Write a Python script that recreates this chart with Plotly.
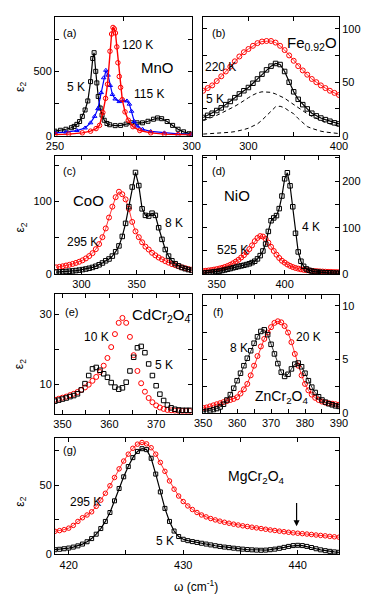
import plotly.graph_objects as go

W, H = 374, 604            # reference picture size
PAD = 8                    # page body margin around the plot div
FW, FH = W - 2 * PAD, H - 2 * PAD
FONT = "Liberation Sans, Arial, Helvetica, sans-serif"

# ---------------- (a) MnO ----------------
mno_x_5k = [250, 252, 254, 256, 257, 258, 259, 260, 261, 262, 263, 263.8, 264.3, 264.9, 265.3, 265.8,
            266.5, 267.2, 268, 269, 270, 272, 274, 276, 278, 280, 282, 284, 286, 287.5, 289, 291,
            293, 295, 297, 299, 300]
mno_5k = [35, 42, 50, 62, 72, 88, 110, 150, 200, 270, 420, 600, 645, 500, 410, 305,
          215, 160, 120, 95, 85, 78, 80, 90, 100, 100, 100, 112, 128, 138, 132, 110,
          80, 50, 30, 15, 12]
mno_x_115k = [250, 254, 258, 261, 263, 264.5, 265.7, 266.9, 267.8, 268.6, 269.4, 270.2, 271, 272,
              273.5, 275, 276.3, 277.2, 278, 279, 280, 282, 285, 290, 295, 300]
mno_115k = [22, 28, 40, 60, 100, 150, 210, 335, 450, 508, 470, 390, 320, 285,
            265, 272, 270, 245, 190, 110, 75, 50, 33, 22, 14, 10]
mno_x_120k = [250, 255, 260, 263, 265, 266.3, 267.5, 268.5, 269.2, 270.1, 270.7, 271.2, 271.7, 272.1,
              272.6, 273.0, 273.5, 274.0, 274.6, 275.6, 276.8, 278.5, 281, 285, 290, 295, 300]
mno_120k = [8, 12, 22, 35, 55, 80, 180, 290, 400, 656, 790, 841, 830, 798,
            690, 567, 460, 375, 280, 185, 120, 70, 40, 22, 12, 8, 6]

# ---------------- (b) Fe0.92O ----------------
feo_x = [250, 255, 260, 265, 270, 275, 280, 285, 290, 295, 300, 305, 310, 315, 320, 325,
         330, 335, 340, 345, 350, 355, 360, 365, 370, 375, 380, 385, 390, 395, 400]
feo_220k = [42, 44.5, 47, 51, 55.5, 60, 64.5, 69.5, 74, 78, 81, 84, 86.5, 88, 88.5, 88.5,
            87, 84, 80, 75, 70, 65, 61, 57, 53, 50, 47, 44.5, 42, 40, 38]
feo_5k = [17, 19, 21, 23.5, 26, 29, 32, 35.5, 39, 42, 45, 49, 53, 57.5, 61.5, 65,
          67.5, 66.5, 60, 50, 41, 34, 29, 25, 21, 18.5, 16.5, 15, 13.5, 12, 11]
feo_osc1 = [14, 15.5, 17.5, 19, 21, 23, 25, 27.5, 30, 33, 35.5, 38, 40, 41, 41, 40.5,
            39, 37, 35, 32, 29, 26, 23, 20.5, 18, 16, 14, 12.5, 11, 10, 9]
feo_osc2 = [1.5, 1.7, 1.9, 2.1, 2.4, 2.8, 3.2, 3.8, 4.6, 5.7, 7.0, 8.8, 11, 14.5, 19, 23.5,
            27, 27.5, 26, 23, 20.5, 16, 12, 8.5, 6.8, 5.3, 4.2, 3.4, 2.8, 2.3, 2.0]

# ---------------- (c) CoO ----------------
coo_x = [277, 280, 283, 286, 289, 292, 295, 298, 301, 304, 307, 310, 313, 316, 319, 322,
         325, 328, 331, 334, 337, 340, 343, 346, 349, 352, 355, 358, 361, 364, 367, 370,
         373, 376, 379, 382, 385, 388, 391, 394, 397, 400]
coo_295k = [9.5, 10.2, 11.0, 12.0, 13.0, 14.2, 15.6, 17.2, 19.2, 21.8, 25.0, 29.0, 34.5, 41.5, 51, 63,
            78, 93, 106, 113.5, 110, 103, 90, 72, 59, 51, 44, 38, 34, 29.5, 26, 23,
            20.5, 18, 16, 14, 12.5, 11, 9.5, 8.3, 7.2, 6.3]
coo_8k = [3.0, 3.2, 3.5, 3.8, 4.2, 4.6, 5.1, 5.7, 6.4, 7.2, 8.2, 9.4, 11.0, 13.0, 15.5, 18.5,
          21, 25, 31, 39, 52, 70, 93, 120, 140, 122, 90, 81, 80, 84, 81, 64,
          48, 34, 25, 18.5, 14.5, 11.5, 9.3, 7.7, 6.4, 5.4]

# ---------------- (d) NiO ----------------
nio_x = [340, 342, 344, 346, 348, 350, 352, 354, 356, 358, 360, 362, 364, 366, 368, 370, 372,
         374, 376, 378, 380, 382, 384, 386, 388, 390, 392, 394, 396, 398, 400, 402, 404,
         406, 408, 410, 412, 414, 416, 418, 420, 422, 424, 426, 428, 430, 432, 434, 436, 438, 440]
nio_525k = [7.0, 7.5, 8.2, 9.0, 10.0, 11.0, 12.3, 13.8, 15.6, 17.7, 20.3, 23.5, 27, 31, 36, 41, 47,
            54, 62, 71, 78, 82, 81, 76, 68, 59, 50, 42, 35, 29, 25, 21, 18,
            15.5, 13.5, 12, 10.6, 9.5, 8.7, 8.0, 7.4, 6.9, 6.5, 6.1, 5.8, 5.5, 5.2, 5.0, 4.8, 4.6, 4.4]
nio_4k = [2.5, 3.0, 3.6, 4.2, 5.0, 5.8, 6.8, 8.0, 9.3, 10.7, 12.2, 13.8, 15.3, 16.7, 18.0, 19.3, 20.8,
          22.5, 25, 28, 33, 40, 50, 65, 92, 115, 121, 126, 141, 168, 205, 218, 190,
          145, 88, 48, 28, 17, 11.5, 8.5, 6.8, 5.6, 4.8, 4.2, 3.8, 3.4, 3.1, 2.8, 2.6, 2.4, 2.2]

# ---------------- (e) CdCr2O4 ----------------
cdcr_x = [348.4, 349.2, 350.0, 350.8, 351.6, 352.4, 353.2, 354.0, 354.8, 355.6, 356.4, 357.2, 358.0,
          358.8, 359.6, 360.4, 361.2, 362.0, 362.8, 363.6, 364.4, 365.2, 366.0, 366.8, 367.6,
          368.4, 369.2, 370.0, 370.8, 371.6, 372.4, 373.2, 374.0, 374.8, 375.6, 376.4, 377.2]
cdcr_10k = [5.6, 5.9, 6.2, 6.5, 6.9, 7.3, 7.8, 8.4, 9.1, 9.9, 11.0, 12.1, 13.5,
            15.3, 17.5, 20.6, 24.3, 27.5, 28.9, 27.5, 23.5, 18.3, 13.8, 10.3, 7.9,
            6.1, 4.9, 4.0, 3.4, 3.0, 2.7, 2.6, 2.5, 2.4, 2.4, 2.4, 2.4]
cdcr_5k = [5.2, 5.5, 5.8, 6.1, 6.5, 6.8, 7.3, 8.4, 10.2, 12.5, 14.4, 14.8, 14.0,
           13.0, 12.0, 10.5, 9.2, 8.6, 9.0, 10.6, 13.8, 17.7, 20.4, 20.8, 19.0,
           15.8, 12.5, 9.6, 7.2, 5.4, 4.1, 3.3, 2.9, 2.7, 2.6, 2.6, 2.6]

# ---------------- (f) ZnCr2O4 ----------------
zncr_x = [350, 351, 352, 353, 354, 355, 356, 357, 358, 359, 360, 361, 362, 363, 364, 365, 366,
          367, 368, 369, 370, 371, 372, 373, 374, 375, 376, 377, 378, 379, 380, 381, 382, 383,
          384, 385, 386, 387, 388, 389, 390]
zncr_20k = [0.45, 0.5, 0.6, 0.7, 0.8, 0.9, 1.0, 1.1, 1.2, 1.3, 1.45, 1.8, 2.2, 2.7, 3.5, 4.4, 5.3,
            6.2, 6.9, 7.5, 8.0, 8.4, 8.55, 8.45, 8.1, 7.5, 6.6, 5.5, 4.4, 3.5, 2.7, 2.1, 1.7, 1.4,
            1.2, 1.05, 0.95, 0.9, 0.85, 0.8, 0.75]
zncr_8k = [0.1, 0.15, 0.2, 0.3, 0.4, 0.55, 0.8, 1.2, 1.7, 2.3, 3.0, 3.7, 4.4, 5.1, 5.8, 6.5, 7.1,
           7.6, 7.75, 7.3, 6.4, 5.5, 4.6, 3.8, 3.4, 3.6, 4.1, 4.55, 4.65, 4.3, 3.7, 3.0, 2.4, 1.9,
           1.5, 1.2, 1.0, 0.85, 0.75, 0.65, 0.6]

# ---------------- (g) MgCr2O4 ----------------
mgcr_x = [418.8, 419.2, 419.6, 420.0, 420.4, 420.8, 421.2, 421.6, 422.0, 422.4, 422.8, 423.2, 423.6,
          424.0, 424.4, 424.8, 425.2, 425.6, 426.0, 426.4, 426.8, 427.2, 427.6, 428.0, 428.4,
          428.8, 429.2, 429.6, 430.0, 430.4, 430.8, 431.2, 431.6, 432.0, 432.4, 432.8, 433.2,
          433.6, 434.0, 434.4, 434.8, 435.2, 435.6, 436.0, 436.4, 436.8, 437.2, 437.6, 438.0,
          438.4, 438.8, 439.2, 439.6, 440.0, 440.4, 440.8, 441.2, 441.6, 442.0, 442.4, 442.8,
          443.2, 443.6]
mgcr_295k = [16.3, 16.8, 17.5, 18.6, 20.6, 23.5, 26.2, 28.2, 30.5, 34.5, 39.0, 44.0, 49.5,
             55.5, 61.8, 67.5, 72.5, 76.8, 79.8, 81.0, 80.0, 77.2, 72.5, 66.5, 60.0,
             53.0, 47.0, 42.0, 38.0, 34.8, 32.2, 30.0, 28.2, 26.8, 25.6, 24.6, 23.7,
             22.9, 22.2, 21.5, 20.9, 20.3, 19.8, 19.3, 18.8, 18.3, 17.8, 17.3, 16.9,
             16.4, 16.0, 15.6, 15.2, 14.9, 14.6, 14.3, 14.0, 13.6, 13.3, 13.0, 12.6,
             12.3, 12.0]
mgcr_5k = [2.9, 3.2, 3.6, 4.1, 4.8, 5.7, 7.0, 8.7, 11.0, 14.2, 18.3, 23.5, 30.0,
           38.5, 47.5, 56.0, 63.5, 70.0, 74.5, 76.5, 75.8, 69.5, 58.0, 45.0, 33.0,
           23.5, 16.5, 12.5, 10.5, 9.5, 8.8, 8.2, 7.6, 7.0, 6.4, 5.8, 5.3,
           4.8, 4.4, 4.0, 3.6, 3.3, 3.0, 2.8, 2.6, 2.5, 2.6, 2.9, 3.3,
           3.9, 4.6, 5.3, 5.9, 6.1, 5.9, 5.3, 4.5, 3.6, 2.8, 2.2, 1.7,
           1.3, 1.0]
mgcr_arrow = (439.9, 38, 20)   # x, top, tip

# panel frames (reference pixels), ranges and ticks
PANELS = [
    dict(px=(48, 192), py=(17, 137), xr=[250, 300], yr=[0, 923],
         xt=[250, 275, 300], xl=["250", "", "300"], yt=[0, 250, 500, 750], yl=["0", "", "500", ""], side="left"),
    dict(px=(204, 347), py=(17, 137), xr=[250, 400], yr=[0, 111],
         xt=[250, 300, 350, 400], xl=["", "300", "", "400"], yt=[0, 25, 50, 75, 100], yl=["0", "", "50", "", "100"], side="right"),
    dict(px=(48, 192), py=(158, 277), xr=[276, 400], yr=[0, 162],
         xt=[300, 325, 350, 375, 400], xl=["300", "", "350", "", ""], yt=[0, 50, 100, 150], yl=["0", "", "100", ""], side="left"),
    dict(px=(204, 347), py=(158, 277), xr=[340, 440], yr=[0, 253],
         xt=[350, 375, 400, 425], xl=["350", "", "400", ""], yt=[0, 50, 100, 150, 200, 250], yl=["0", "", "100", "", "200", ""], side="right"),
    dict(px=(48, 192), py=(297, 418), xr=[348.4, 377.6], yr=[1.6, 35.7],
         xt=[350, 355, 360, 365, 370, 375], xl=["350", "", "360", "", "370", ""], yt=[10, 20, 30], yl=["10", "", "30"], side="left"),
    dict(px=(204, 347), py=(298, 417), xr=[350, 390], yr=[0, 11],
         xt=[350, 355, 360, 365, 370, 375, 380, 385, 390], xl=["350", "", "360", "", "370", "", "380", "", "390"],
         yt=[0, 2.5, 5, 7.5, 10], yl=["0", "", "5", "", "10"], side="right"),
    dict(px=(48, 347), py=(442, 560), xr=[418.8, 443.6], yr=[-0.5, 84.6],
         xt=[420, 425, 430, 435, 440], xl=["420", "", "430", "", "440"], yt=[0, 25, 50, 75], yl=["0", "", "50", ""], side="left"),
]

RED, BLUE, BLACK = "#ff0000", "#0000ff", "#000000"


def xp(px):
    return (px - PAD) / FW


def yp(py):
    return 1 - (py - PAD) / FH


fig = go.Figure()


def sfx(i):
    return "" if i == 1 else str(i)


def add(i, x, y, color, symbol=None, line=True, size=4.5, lw=1.2, dash=None):
    mode = "lines+markers" if symbol else "lines"
    fig.add_trace(go.Scatter(
        x=x, y=y, mode=mode, xaxis="x" + sfx(i), yaxis="y" + sfx(i),
        line=dict(color=color, width=lw if line else 0.8, dash=dash),
        marker=dict(symbol=symbol, size=size, color=color, line=dict(color=color, width=1)),
        hoverinfo="skip", showlegend=False,
    ))


# (a)
add(1, mno_x_5k, mno_5k, BLACK, "square-open", size=4)
add(1, mno_x_115k, mno_115k, BLUE, "triangle-up-open", size=4)
add(1, mno_x_120k, mno_120k, RED, "circle-open", lw=1.4, size=4.5)
# (b)
add(2, feo_x, feo_osc1, BLACK, lw=1, dash="4px,3px")
add(2, feo_x, feo_osc2, BLACK, lw=1, dash="4px,3px")
add(2, feo_x, feo_220k, RED, "circle-open", line=False, size=5)
add(2, feo_x, feo_5k, BLACK, "square-open")
# (c)
add(3, coo_x, coo_295k, RED, "circle-open", line=False, size=5)
add(3, coo_x, coo_8k, BLACK, "square-open")
# (d)
add(4, nio_x, nio_525k, RED, "circle-open", line=False, size=5)
add(4, nio_x, nio_4k, BLACK, "square-open")
# (e)
fig.add_trace(go.Scatter(x=cdcr_x, y=cdcr_10k, mode="markers", xaxis="x5", yaxis="y5",
                         marker=dict(symbol="circle-open", size=5, color=RED, line=dict(width=1)),
                         hoverinfo="skip", showlegend=False))
fig.add_trace(go.Scatter(x=cdcr_x, y=cdcr_5k, mode="markers", xaxis="x5", yaxis="y5",
                         marker=dict(symbol="square-open", size=4.5, color=BLACK, line=dict(width=1)),
                         hoverinfo="skip", showlegend=False))
# (f)
add(6, zncr_x, zncr_20k, RED, "circle-open", line=False, size=5)
add(6, zncr_x, zncr_8k, BLACK, "square-open", line=False, size=4.5)
# (g)
add(7, mgcr_x, mgcr_295k, RED, "circle-open", line=False, size=4.5)
add(7, mgcr_x, mgcr_5k, BLACK, "square-open", size=4)


def axis(**kw):
    base = dict(showline=True, linecolor="black", linewidth=1, mirror="ticks", ticks="inside",
                ticklen=4, tickwidth=1, tickcolor="black", showgrid=False, zeroline=False,
                tickfont=dict(size=11, family=FONT, color="black"), fixedrange=True)
    base.update(kw)
    return base


layout = {}
for i, p in enumerate(PANELS, start=1):
    layout["xaxis" + sfx(i)] = axis(domain=[xp(p["px"][0]), xp(p["px"][1])], range=p["xr"],
                                   tickvals=p["xt"], ticktext=p["xl"], anchor="y" + sfx(i))
    layout["yaxis" + sfx(i)] = axis(domain=[yp(p["py"][1]), yp(p["py"][0])], range=p["yr"],
                                   tickvals=p["yt"], ticktext=p["yl"], anchor="x" + sfx(i), side=p["side"])


def label(text, px, py, size=12, **kw):
    return dict(text=text, x=xp(px), y=yp(py), xref="paper", yref="paper", showarrow=False,
                font=dict(size=size, family=FONT, color="black"), xanchor="center", yanchor="middle", **kw)


notes = [
    label("(a)", 63, 33, 11), label("5 K", 70, 88), label("120 K", 135, 45), label("MnO", 156, 68, 15),
    label("115 K", 147, 95),
    label("(b)", 220, 33, 11), label("Fe<sub>0.92</sub>O", 319, 44, 15), label("220 K", 222, 68),
    label("5 K", 217, 100),
    label("(c)", 63, 173, 11), label("CoO", 83, 202, 15), label("295 K", 77, 244), label("8 K", 173, 225),
    label("(d)", 220, 173, 11), label("NiO", 240, 197, 15), label("525 K", 235, 252), label("4 K", 318, 229),
    label("(e)", 65, 315, 11), label("CdCr<sub>2</sub>O<sub>4</sub>", 160, 319, 15), label("10 K", 92, 340),
    label("5 K", 163, 369),
    label("(f)", 220, 315, 11), label("8 K", 242, 352), label("20 K", 315, 340),
    label("ZnCr<sub>2</sub>O<sub>4</sub>", 286, 401, 14),
    label("(g)", 63, 455, 11), label("MgCr<sub>2</sub>O<sub>4</sub>", 260, 482, 14), label("295 K", 80, 507),
    label("5 K", 164, 546),
    label("ω (cm<sup>-1</sup>)", 197, 592, 12),
]
for py in (88, 230, 368, 507):
    notes.append(label("ε<sub>2</sub>", 12, py, 12, textangle=-90))

notes.append(dict(x=mgcr_arrow[0], y=mgcr_arrow[2], ax=mgcr_arrow[0], ay=mgcr_arrow[1],
                  xref="x7", yref="y7", axref="x7", ayref="y7", text="", showarrow=True,
                  arrowhead=2, arrowsize=1, arrowwidth=1.2, arrowcolor="black"))

fig.update_layout(
    width=FW, height=FH, margin=dict(l=0, r=0, t=0, b=0),
    paper_bgcolor="white", plot_bgcolor="white",
    font=dict(family=FONT, size=11, color="black"),
    annotations=notes, showlegend=False,
    **layout,
)

fig.write_html("out.html")
